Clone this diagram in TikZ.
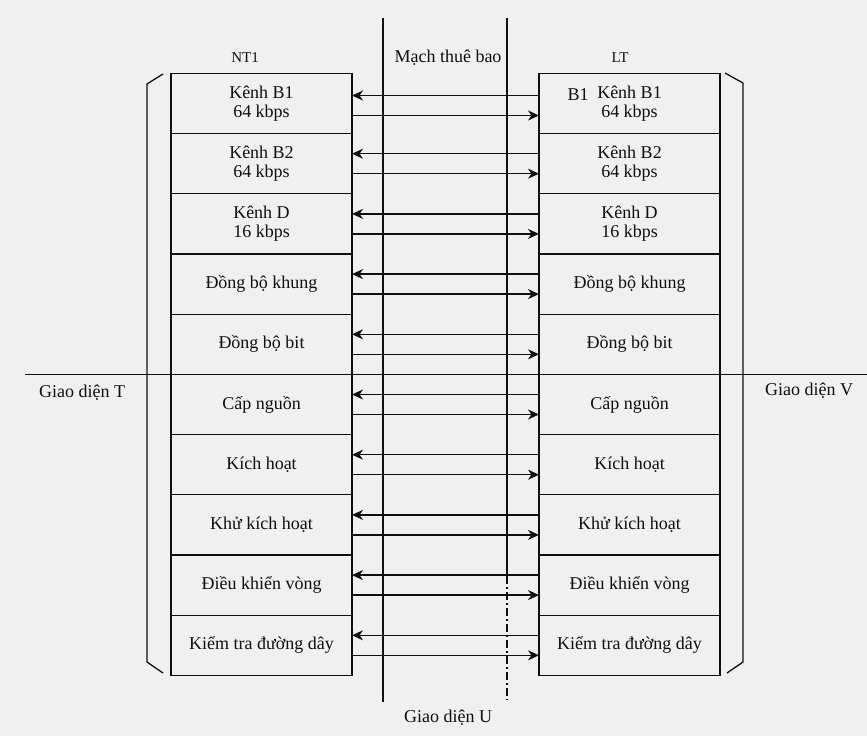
\documentclass[tikz,border=0pt]{standalone}
\usepackage{fontspec}
\setmainfont{Liberation Serif}
\usetikzlibrary{positioning,arrows.meta}
\definecolor{paper}{RGB}{240,240,240}
\definecolor{ink}{RGB}{15,15,15}

\begin{document}
\begin{tikzpicture}[x=1pt, y=-1pt,
  node distance=0pt,
  box/.style={draw=ink, line width=1.3pt, outer sep=0pt, minimum width=181pt, minimum height=60.2pt, inner sep=2pt, align=center, font=\fontsize{18}{19}\selectfont, text=ink},
  arr/.style={-{Stealth[length=11pt,width=10pt,inset=3.5pt]}, line width=1.3pt, draw=ink},
  wire/.style={line width=1.3pt, draw=ink},
  lab/.style={font=\fontsize{18}{20}\selectfont, text=ink},
  head/.style={font=\fontsize{15}{17}\selectfont, text=ink}]
  \useasboundingbox (0,0) rectangle (867,736);
  \fill[paper] (0,0) rectangle (867,736);
  % NT1 side
  \node[box] (l1) at (261.5,103.5) {Kênh B1\\64 kbps};
  \node[box, below=of l1] (l2) {Kênh B2\\64 kbps};
  \node[box, below=of l2] (l3) {Kênh D\\16 kbps};
  \node[box, below=of l3] (l4) {Đồng bộ khung};
  \node[box, below=of l4] (l5) {Đồng bộ bit};
  \node[box, below=of l5] (l6) {Cấp nguồn};
  \node[box, below=of l6] (l7) {Kích hoạt};
  \node[box, below=of l7] (l8) {Khử kích hoạt};
  \node[box, below=of l8] (l9) {Điều khiển vòng};
  \node[box, below=of l9] (l10) {Kiểm tra đường dây};
  % LT side
  \node[box] (r1) at (629.5,103.5) {Kênh B1\\64 kbps};
  \node[box, below=of r1] (r2) {Kênh B2\\64 kbps};
  \node[box, below=of r2] (r3) {Kênh D\\16 kbps};
  \node[box, below=of r3] (r4) {Đồng bộ khung};
  \node[box, below=of r4] (r5) {Đồng bộ bit};
  \node[box, below=of r5] (r6) {Cấp nguồn};
  \node[box, below=of r6] (r7) {Kích hoạt};
  \node[box, below=of r7] (r8) {Khử kích hoạt};
  \node[box, below=of r8] (r9) {Điều khiển vòng};
  \node[box, below=of r9] (r10) {Kiểm tra đường dây};
  \node[lab] (b1) at (578,95) {B1};
  % headings
  \node[head] (nt) at (245,58) {NT1};
  \node[lab] (mach) at (448,58) {Mạch thuê bao};
  \node[head] (lt) at (620,58) {LT};
  \node[lab] (gt) at (82,393) {Giao diện T};
  \node[lab] (gv) at (809,391) {Giao diện V};
  \node[lab] (gu) at (448,718) {Giao diện U};
  % interfaces
  \coordinate (ua) at (383,18); \coordinate (ub) at (383,702);
  \coordinate (va) at (507,18); \coordinate (vm) at (507,576); \coordinate (vb) at (507,700);
  \draw[wire] (ua) -- (ub);
  \draw[wire] (va) -- (vm);
  \draw[wire, dash pattern=on 8pt off 3pt on 2pt off 3pt] (vm) -- (vb);
  \draw[wire] (25,0 |- l5.south) -- (867,0 |- l5.south);
  % brackets
  \draw[wire] (163,74) -- (147,84) -- (147,662) -- (163,673);
  \draw[wire] (725,73) -- (743,83) -- (743,662) -- (727,673);
  % arrows
  \draw[arr] ([yshift=8pt]r1.west) -- ([yshift=8pt]l1.east); \draw[arr] ([yshift=-12pt]l1.east) -- ([yshift=-12pt]r1.west);
  \draw[arr] ([yshift=10pt]r2.west) -- ([yshift=10pt]l2.east); \draw[arr] ([yshift=-10pt]l2.east) -- ([yshift=-10pt]r2.west);
  \draw[arr] ([yshift=10pt]r3.west) -- ([yshift=10pt]l3.east); \draw[arr] ([yshift=-10pt]l3.east) -- ([yshift=-10pt]r3.west);
  \draw[arr] ([yshift=10pt]r4.west) -- ([yshift=10pt]l4.east); \draw[arr] ([yshift=-10pt]l4.east) -- ([yshift=-10pt]r4.west);
  \draw[arr] ([yshift=10pt]r5.west) -- ([yshift=10pt]l5.east); \draw[arr] ([yshift=-10pt]l5.east) -- ([yshift=-10pt]r5.west);
  \draw[arr] ([yshift=10pt]r6.west) -- ([yshift=10pt]l6.east); \draw[arr] ([yshift=-10pt]l6.east) -- ([yshift=-10pt]r6.west);
  \draw[arr] ([yshift=10pt]r7.west) -- ([yshift=10pt]l7.east); \draw[arr] ([yshift=-10pt]l7.east) -- ([yshift=-10pt]r7.west);
  \draw[arr] ([yshift=10pt]r8.west) -- ([yshift=10pt]l8.east); \draw[arr] ([yshift=-10pt]l8.east) -- ([yshift=-10pt]r8.west);
  \draw[arr] ([yshift=10pt]r9.west) -- ([yshift=10pt]l9.east); \draw[arr] ([yshift=-10pt]l9.east) -- ([yshift=-10pt]r9.west);
  \draw[arr] ([yshift=10pt]r10.west) -- ([yshift=10pt]l10.east); \draw[arr] ([yshift=-10pt]l10.east) -- ([yshift=-10pt]r10.west);
\end{tikzpicture}
\end{document}
